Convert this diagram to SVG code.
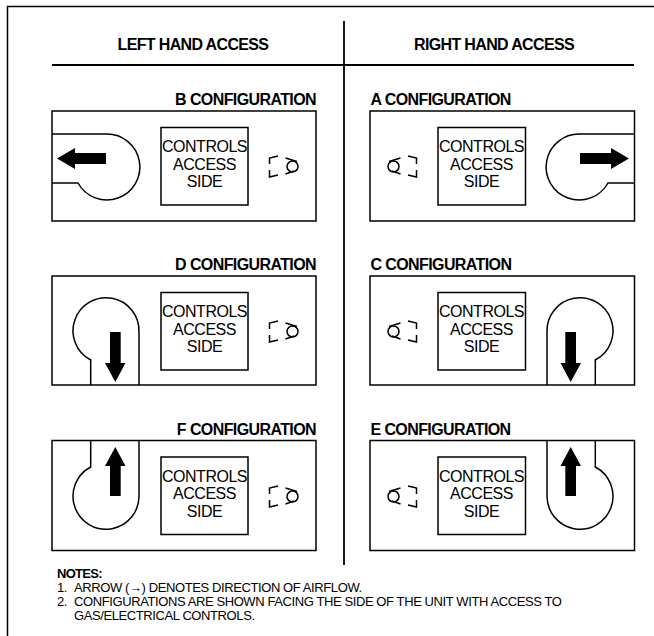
<svg xmlns="http://www.w3.org/2000/svg" width="654" height="636" viewBox="0 0 654 636">
<style>
text{font-family:"Liberation Sans",Arial,sans-serif;fill:#000}
.hd{font-size:16px;font-weight:700;letter-spacing:-.65px;text-anchor:middle}
.cfg{font-size:16px;font-weight:700;letter-spacing:-.6px}
.ctl{font-size:16px;letter-spacing:-.5px;text-anchor:middle}
.nt{font-size:13px;letter-spacing:-.4px}
.ntb{font-size:13px;font-weight:700;letter-spacing:-.7px}
.ln{fill:none;stroke:#000;stroke-width:1.5}
.hv{fill:none;stroke:#000;stroke-width:1.8}
.ar{fill:#000}
</style>
<defs>
<g id="valve"><path class="ln" d="M278 156L269.500 158V164M269.500 170V177L278 175M285.500 158L297 161.500M285.500 174L294 171"/><circle class="ln" cx="292.500" cy="166.500" r="5.500"/></g>
<g id="fanSide"><path class="ln" d="M52 134H106A33 33 0 1 1 78 183H52"/><path class="ar" d="M57 158.500L75 148V153H106V164H75V169Z"/></g>
<g id="fanDown"><path class="ln" d="M139 385V332A33 33 0 1 0 90.700 360V385"/><path class="ar" d="M110 332H120.700V363H125.500L115.300 382L105 363H110Z"/></g>
<g id="fanUp"><path class="ln" d="M139 440V495A33 33 0 1 1 90.700 467V440"/><path class="ar" d="M110 496H120.700V466H125.500L115.300 447L105 466H110Z"/></g>
</defs>
<rect width="654" height="636" fill="#fff"/>
<g id="frame"><path class="ln" d="M7.500 636V6.500H654"/></g>
<g id="connectors"><path class="hv" d="M344 21V565M52 65H634"/></g>
<g id="header-left"><text class="hd" x="193" y="50">LEFT HAND ACCESS</text></g>
<g id="header-right"><text class="hd" x="494" y="50">RIGHT HAND ACCESS</text></g>

<g id="config-b"><text class="cfg" x="316" y="105" text-anchor="end">B CONFIGURATION</text><rect class="ln" x="52" y="111" width="264" height="110"/><rect class="ln" x="161" y="127.500" width="87" height="77.500"/><text class="ctl" x="204.500" y="152">CONTROLS</text><text class="ctl" x="204.500" y="169.500">ACCESS</text><text class="ctl" x="204.500" y="187">SIDE</text><use href="#valve"/><use href="#fanSide"/></g>

<g id="config-a"><text class="cfg" x="370.500" y="105">A CONFIGURATION</text><rect class="ln" x="370" y="111" width="264.500" height="110"/><rect class="ln" x="438" y="127.500" width="87.500" height="77.500"/><text class="ctl" x="481.500" y="152">CONTROLS</text><text class="ctl" x="481.500" y="169.500">ACCESS</text><text class="ctl" x="481.500" y="187">SIDE</text><use href="#valve" transform="matrix(-1 0 0 1 686 0)"/><use href="#fanSide" transform="matrix(-1 0 0 1 686 0)"/></g>

<g id="config-d"><text class="cfg" x="316" y="270" text-anchor="end">D CONFIGURATION</text><rect class="ln" x="52" y="276" width="264" height="109"/><rect class="ln" x="161" y="292.500" width="87" height="77.500"/><text class="ctl" x="204.500" y="317">CONTROLS</text><text class="ctl" x="204.500" y="334.500">ACCESS</text><text class="ctl" x="204.500" y="352">SIDE</text><use href="#valve" transform="translate(0 165)"/><use href="#fanDown"/></g>

<g id="config-c"><text class="cfg" x="370.500" y="270">C CONFIGURATION</text><rect class="ln" x="370" y="276" width="264.500" height="109"/><rect class="ln" x="438" y="292.500" width="87.500" height="77.500"/><text class="ctl" x="481.500" y="317">CONTROLS</text><text class="ctl" x="481.500" y="334.500">ACCESS</text><text class="ctl" x="481.500" y="352">SIDE</text><use href="#valve" transform="matrix(-1 0 0 1 686 165)"/><use href="#fanDown" transform="matrix(-1 0 0 1 686 0)"/></g>

<g id="config-f"><text class="cfg" x="316" y="435" text-anchor="end">F CONFIGURATION</text><rect class="ln" x="52" y="440.500" width="264" height="110"/><rect class="ln" x="161" y="457" width="87" height="77.500"/><text class="ctl" x="204.500" y="481.500">CONTROLS</text><text class="ctl" x="204.500" y="499">ACCESS</text><text class="ctl" x="204.500" y="516.500">SIDE</text><use href="#valve" transform="translate(0 330)"/><use href="#fanUp"/></g>

<g id="config-e"><text class="cfg" x="370.500" y="435">E CONFIGURATION</text><rect class="ln" x="370" y="440.500" width="264.500" height="110"/><rect class="ln" x="438" y="457" width="87.500" height="77.500"/><text class="ctl" x="481.500" y="481.500">CONTROLS</text><text class="ctl" x="481.500" y="499">ACCESS</text><text class="ctl" x="481.500" y="516.500">SIDE</text><use href="#valve" transform="matrix(-1 0 0 1 686 330)"/><use href="#fanUp" transform="matrix(-1 0 0 1 686 0)"/></g>

<g id="notes">
<text class="ntb" x="57" y="578">NOTES:</text>
<text class="nt" x="57" y="592">1.</text><text class="nt" x="74" y="592">ARROW (→) DENOTES DIRECTION OF AIRFLOW.</text>
<text class="nt" x="57" y="606">2.</text><text class="nt" x="74" y="606">CONFIGURATIONS ARE SHOWN FACING THE SIDE OF THE UNIT WITH ACCESS TO</text>
<text class="nt" x="74" y="620">GAS/ELECTRICAL CONTROLS.</text>
</g>
</svg>
